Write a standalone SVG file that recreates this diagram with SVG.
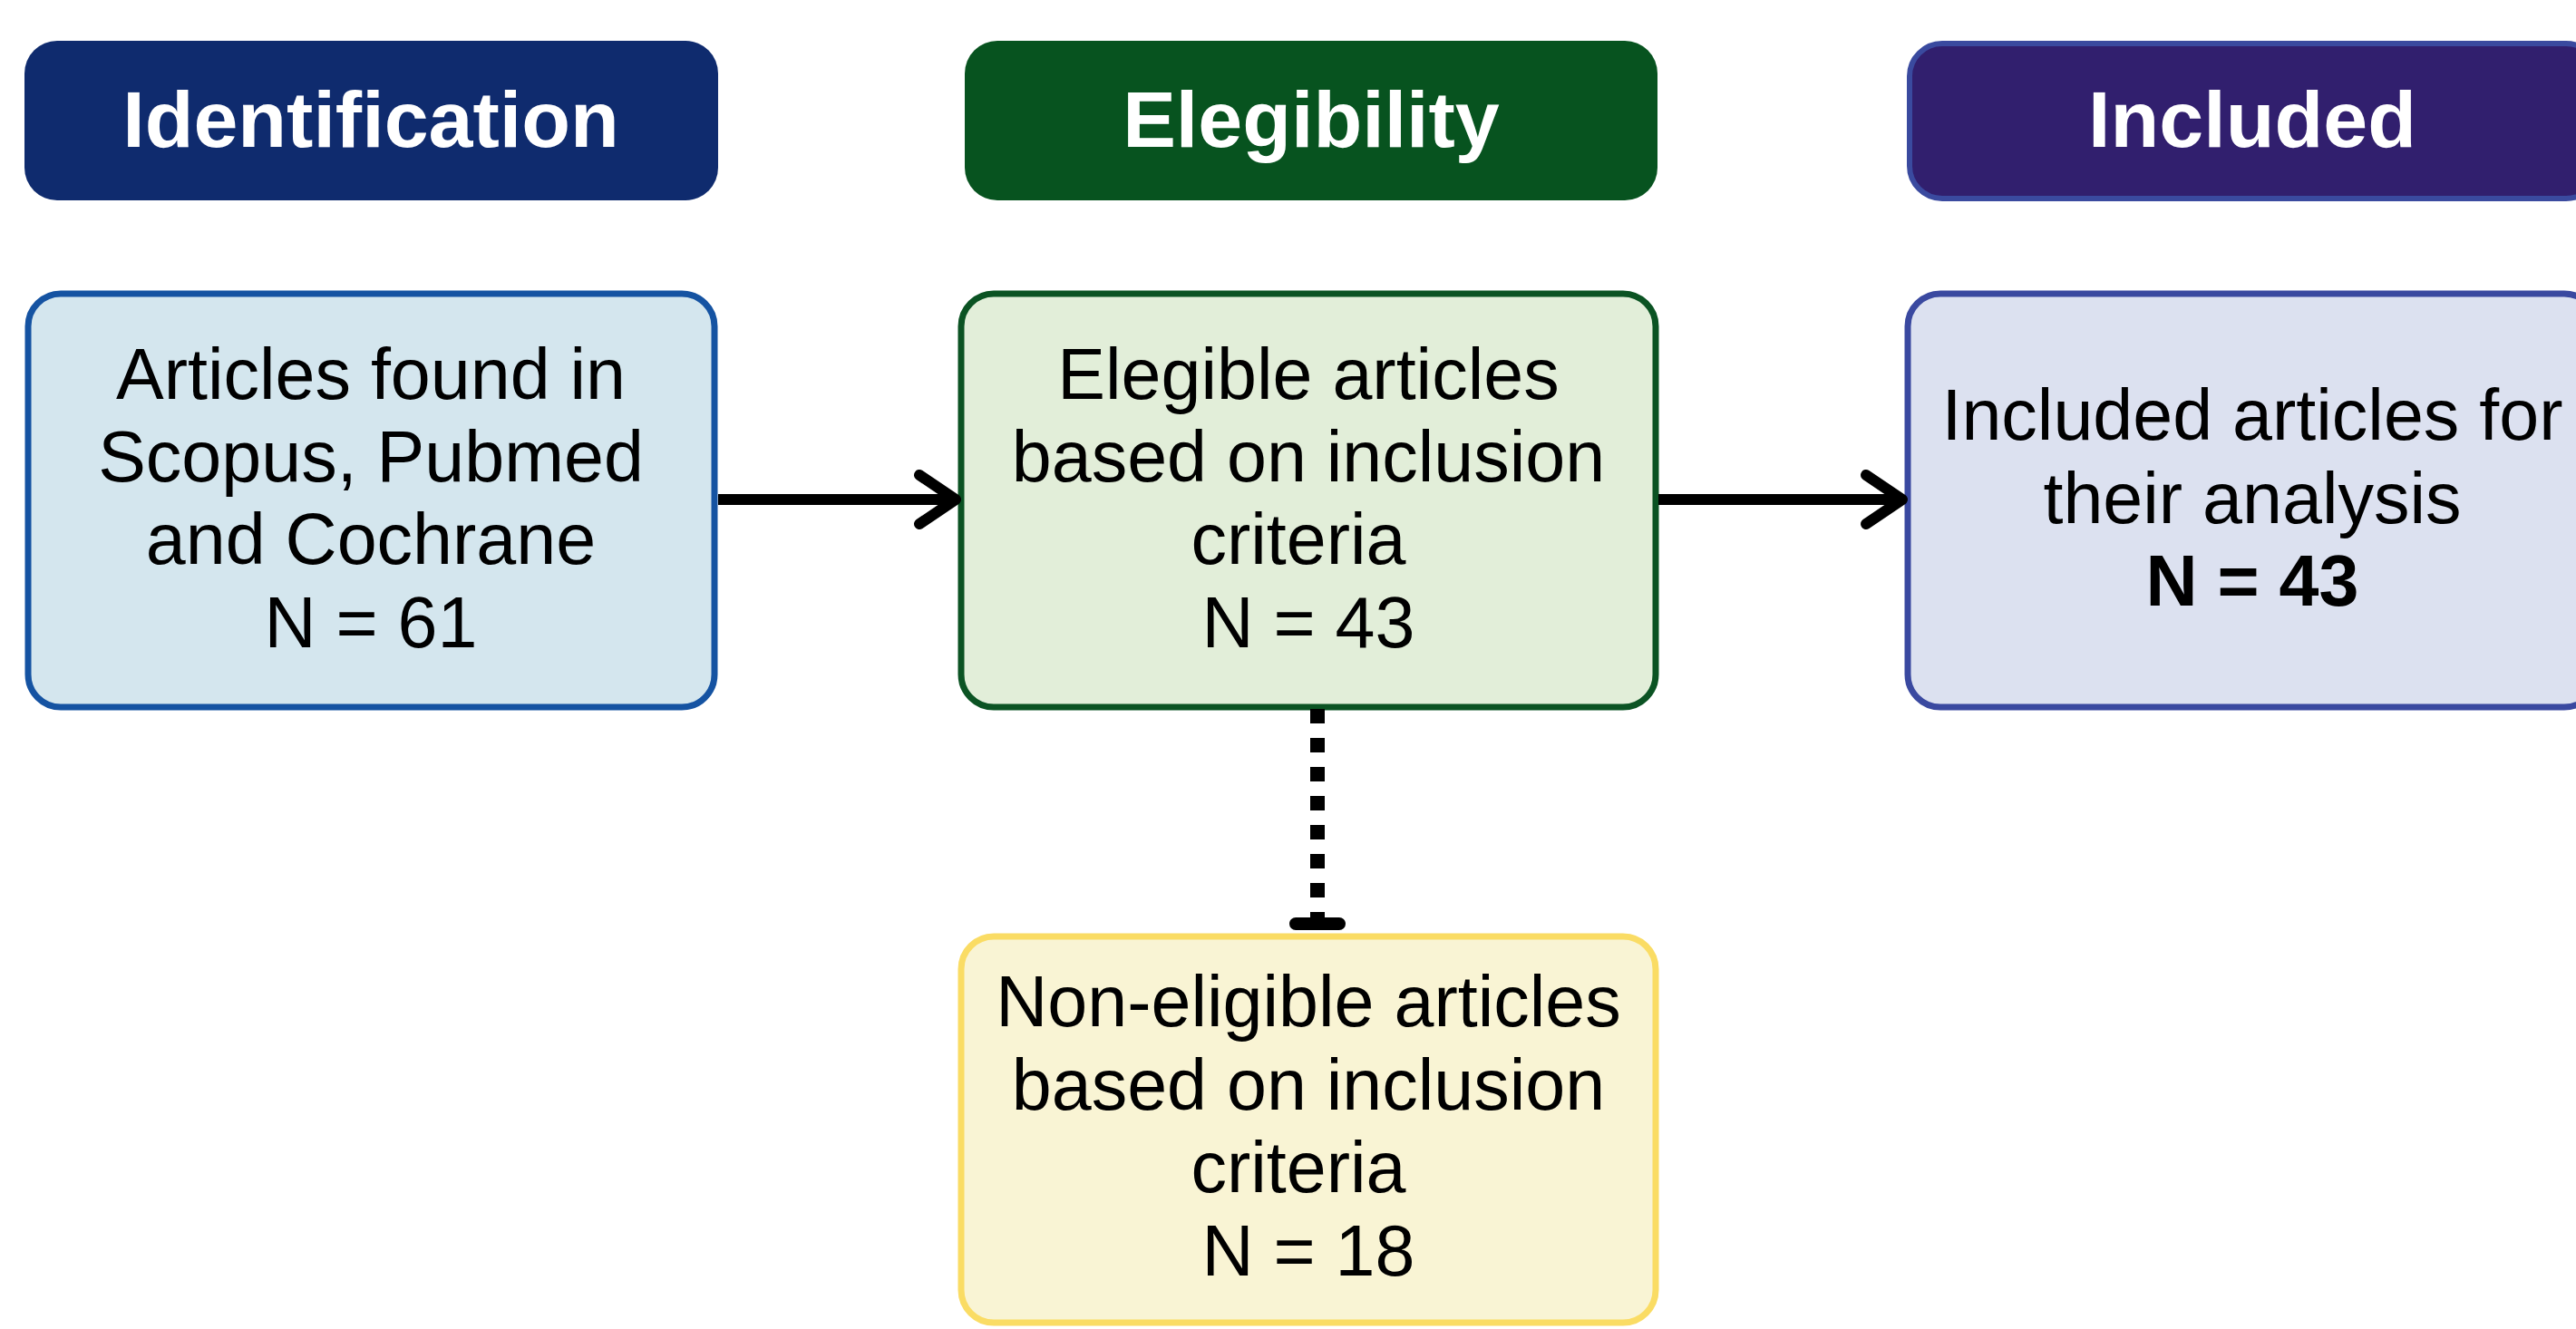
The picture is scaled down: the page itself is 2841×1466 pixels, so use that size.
<svg xmlns="http://www.w3.org/2000/svg" width="2841" height="1466" viewBox="0 0 2841 1466">
<style>
.hdr{font-family:"Liberation Sans",Arial,sans-serif;font-weight:bold;font-size:88px;fill:#ffffff;text-anchor:middle}
.txt{font-family:"Liberation Sans",Arial,sans-serif;font-size:79px;fill:#000000;text-anchor:middle}
.bold{font-weight:bold}
.box{stroke-width:7}
.conn{fill:none;stroke:#000000;stroke-width:12;stroke-linecap:butt}
</style>
<defs>
<marker id="chev" markerUnits="userSpaceOnUse" markerWidth="60" markerHeight="70" refX="0" refY="0" viewBox="-50 -35 60 70" orient="auto" overflow="visible">
<path d="M-40,-27 L0,0 L-40,27" fill="none" stroke="#000000" stroke-width="12" stroke-linecap="round" stroke-linejoin="round"/>
</marker>
</defs>
<rect width="2841" height="1466" fill="#ffffff"/>
<g id="header-identification">
<rect x="27" y="45" width="765" height="176" rx="36" fill="#0f2b6e"/>
<text class="hdr" x="409" y="162">Identification</text>
</g>
<g id="header-elegibility">
<rect x="1064" y="45" width="764" height="176" rx="36" fill="#07531f"/>
<text class="hdr" x="1446" y="162">Elegibility</text>
</g>
<g id="header-included">
<rect x="2106" y="48" width="760" height="171" rx="36" fill="#311f6e" stroke="#3a4a9f" stroke-width="6"/>
<text class="hdr" x="2484" y="162">Included</text>
</g>
<g id="box-identification">
<rect class="box" x="31" y="324" width="757" height="456" rx="36" fill="#d4e6ee" stroke="#1553a2"/>
<text class="txt" x="409" y="440">Articles found in</text>
<text class="txt" x="409" y="531">Scopus, Pubmed</text>
<text class="txt" x="409" y="622">and Cochrane</text>
<text class="txt" x="409" y="714">N = 61</text>
</g>
<g id="box-elegible">
<rect class="box" x="1060" y="324" width="766" height="456" rx="36" fill="#e2eed9" stroke="#0b5323"/>
<text class="txt" x="1443" y="440">Elegible articles</text>
<text class="txt" x="1443" y="531">based on inclusion</text>
<text class="txt" x="1432" y="622">criteria</text>
<text class="txt" x="1443" y="714">N = 43</text>
</g>
<g id="box-included">
<rect class="box" x="2104" y="324" width="760" height="456" rx="36" fill="#dce1f0" stroke="#3a49a0"/>
<text class="txt" x="2484" y="485">Included articles for</text>
<text class="txt" x="2484" y="577">their analysis</text>
<text class="txt bold" x="2484" y="668">N = 43</text>
</g>
<g id="box-noneligible">
<rect class="box" x="1060" y="1033" width="766" height="426" rx="36" fill="#f9f4d4" stroke="#fadc64"/>
<text class="txt" x="1443" y="1132">Non-eligible articles</text>
<text class="txt" x="1443" y="1224">based on inclusion</text>
<text class="txt" x="1432" y="1315">criteria</text>
<text class="txt" x="1443" y="1407">N = 18</text>
</g>
<g id="connectors">
<path class="conn" d="M792,551 L1054,551" marker-end="url(#chev)"/>
<path class="conn" d="M1829,551 L2098,551" marker-end="url(#chev)"/>
<path d="M1453,782 L1453,1014" fill="none" stroke="#000000" stroke-width="16" stroke-dasharray="16 16"/>
<path d="M1429,1019 L1477,1019" fill="none" stroke="#000000" stroke-width="14" stroke-linecap="round"/>
</g>
</svg>
